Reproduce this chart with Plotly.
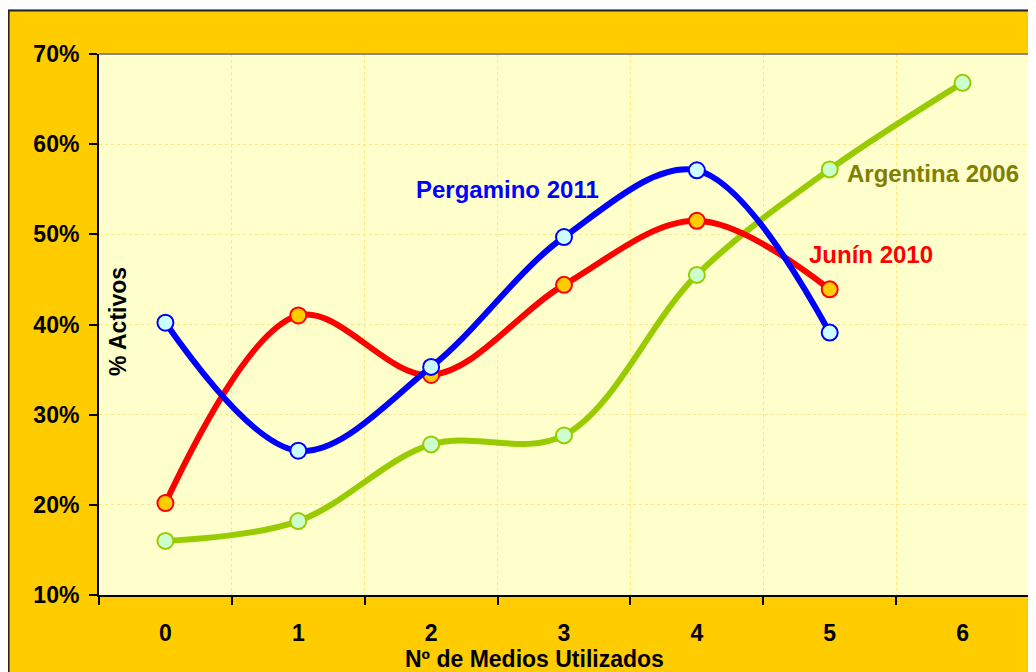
import plotly.graph_objects as go

categories = ["0", "1", "2", "3", "4", "5", "6"]
pergamino_2011 = [0.402, 0.260, 0.353, 0.497, 0.571, 0.391]
junin_2010 = [0.202, 0.410, 0.344, 0.444, 0.515, 0.439]
argentina_2006 = [0.160, 0.182, 0.267, 0.277, 0.455, 0.572, 0.668]
y_ticks = [0.1, 0.2, 0.3, 0.4, 0.5, 0.6, 0.7]
y_tick_labels = ["10%", "20%", "30%", "40%", "50%", "60%", "70%"]

FONT = "Liberation Sans, Arial, sans-serif"

fig = go.Figure()

def add_series(name, values, line_color, fill_color):
    fig.add_trace(go.Scatter(
        x=categories[:len(values)], y=values, name=name,
        mode="lines+markers",
        line=dict(color=line_color, width=6, shape="spline", smoothing=1.0),
        marker=dict(size=16, color=fill_color, line=dict(color=line_color, width=2)),
        cliponaxis=False, hoverinfo="skip",
    ))

add_series("Argentina 2006", argentina_2006, "#99CC00", "#CCFFCC")
add_series("Junín 2010", junin_2010, "#FF0000", "#FFCC00")
add_series("Pergamino 2011", pergamino_2011, "#0000FF", "#CCFFFF")

# the page has an 8px body margin: figure starts at page (8, 8)
OFF = 8
W, H = 1036 - OFF, 672 - OFF
L, R, T, B = 99, 1029, 54, 595   # plot area in page pixels
pw, ph = R - L, B - T

def px(x):
    return (x - L) / pw

def py(y):
    return (B - y) / ph

shapes = [
    # white strip at top (page y < 10)
    dict(type="rect", xref="paper", yref="paper", x0=px(0), x1=px(1040), y0=py(9.5), y1=py(-5),
         fillcolor="white", line=dict(width=0), layer="above"),
    # dark border lines
    dict(type="line", xref="paper", yref="paper", x0=px(8), x1=px(1040), y0=py(10.5), y1=py(10.5),
         line=dict(color="#222222", width=2), layer="above"),
    dict(type="line", xref="paper", yref="paper", x0=px(8.6), x1=px(8.6), y0=py(10), y1=py(680),
         line=dict(color="#222222", width=2), layer="above"),
    # grey plot border top and right
    dict(type="line", xref="paper", yref="paper", x0=0, x1=1, y0=1, y1=1,
         line=dict(color="#888888", width=2), layer="above"),
    dict(type="line", xref="paper", yref="paper", x0=1, x1=1, y0=0, y1=1,
         line=dict(color="#888888", width=2), layer="above"),
]

def label(text, x, y, size, color, angle=0):
    return dict(text=text, x=px(x), y=py(y), xref="paper", yref="paper", showarrow=False,
                xanchor="center", yanchor="middle", textangle=angle,
                font=dict(family=FONT, size=size, color=color, weight="bold"))

annotations = [
    label("Pergamino 2011", 507, 190, 24, "#0000FF"),
    label("Junín 2010", 871, 254, 24, "#FF0000"),
    label("Argentina 2006", 933, 173, 24, "#808000"),
    label("% Activos", 118, 322, 23, "black", -90),
    label("Nº de Medios Utilizados", 534, 659, 23, "black"),
]

fig.update_layout(
    width=W, height=H,
    margin=dict(l=L - OFF, r=W - (R - OFF), t=T - OFF, b=H - (B - OFF), pad=0),
    paper_bgcolor="#FFCC00",
    plot_bgcolor="#FFFFCC",
    showlegend=False,
    shapes=shapes,
    annotations=annotations,
    font=dict(family=FONT, size=23, color="black"),
    xaxis=dict(
        type="category", categoryorder="array", categoryarray=categories,
        range=[-0.5, 6.5], tickson="boundaries",
        ticks="outside", ticklen=8, tickwidth=2, tickcolor="black",
        showline=True, linecolor="black", linewidth=2,
        showgrid=True, gridcolor="#FFE680", griddash="dot", gridwidth=1,
        tickfont=dict(family=FONT, size=23, color="black", weight="bold"),
        ticklabelstandoff=16, zeroline=False, fixedrange=True,
    ),
    yaxis=dict(
        range=[0.1, 0.7], tickvals=y_ticks, ticktext=y_tick_labels,
        ticks="outside", ticklen=8, tickwidth=2, tickcolor="black",
        showline=True, linecolor="black", linewidth=2,
        showgrid=True, gridcolor="#FFE680", griddash="dot", gridwidth=1,
        tickfont=dict(family=FONT, size=23, color="black", weight="bold"),
        ticklabelstandoff=5, zeroline=False, fixedrange=True,
    ),
)

fig.write_html("out.html")
